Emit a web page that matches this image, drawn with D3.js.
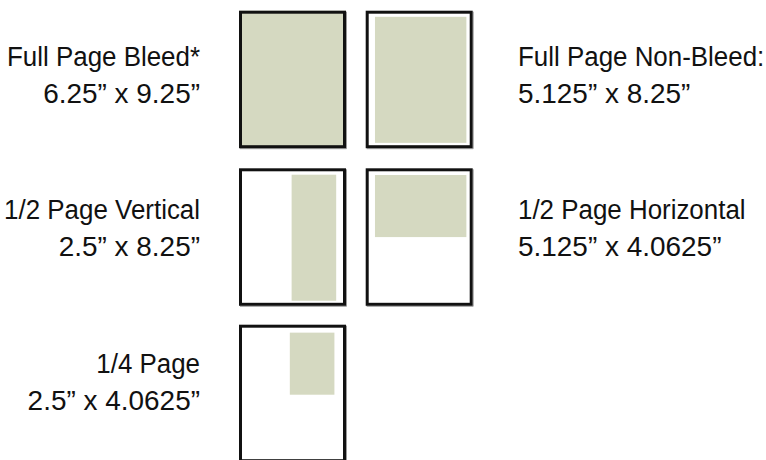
<!DOCTYPE html>
<html>
<head>
<meta charset="utf-8">
<script src="https://cdn.jsdelivr.net/npm/d3@7"></script>
<style>
  body { margin: 0; background: #fff; }
  text { font-family: "Liberation Sans", Arial, sans-serif; fill: #111; }
</style>
</head>
<body>
<div id="chart"></div>
<script>
// Ad sizes (inches) for a 6 x 9 trim page
const adNames = ["Full Page Bleed*", "Full Page Non-Bleed:", "1/2 Page Vertical", "1/2 Page Horizontal", "1/4 Page"];
const adSizes = ["6.25\u201D x 9.25\u201D", "5.125\u201D x 8.25\u201D", "2.5\u201D x 8.25\u201D", "5.125\u201D x 4.0625\u201D", "2.5\u201D x 4.0625\u201D"];
const adW = [6.25, 5.125, 2.5, 5.125, 2.5];
const adH = [9.25, 8.25, 8.25, 4.0625, 4.0625];
const adX = [-0.125, 0.52, 2.95, 0.52, 2.85];   // offset from page left
const adY = [-0.125, 0.4, 0.42, 0.44, 0.52];    // offset from page top
const trimW = 6, trimH = 9;

const width = 766, height = 460;
const pageW = 107, pageH = 137.5;
const colX = [239, 365.7];
const rowY = [10.7, 168.3, 324.7];
const labelY = [66, 219, 373];   // first baseline per row
const nameScale = 0.96, sizeScale = 1.035;

const svg = d3.select("#chart").append("svg")
    .attr("width", width)
    .attr("height", height);

const x = d3.scaleLinear().domain([0, trimW]).range([0, pageW]);
const y = d3.scaleLinear().domain([0, trimH]).range([0, pageH]);

const ads = adNames.map((name, i) => ({
    name, size: adSizes[i], w: adW[i], h: adH[i], ox: adX[i], oy: adY[i],
    col: i === 4 ? 0 : i % 2, row: Math.floor(i / 2)
}));

const page = svg.selectAll("g.page")
  .data(ads)
  .enter().append("g")
    .attr("class", "page")
    .attr("transform", d => `translate(${colX[d.col]},${rowY[d.row]})`);

// clip so the bleed ad stops at the trim
page.append("clipPath")
    .attr("id", (d, i) => "clip" + i)
  .append("rect")
    .attr("width", pageW)
    .attr("height", pageH);

page.append("rect")
    .attr("width", pageW)
    .attr("height", pageH)
    .attr("fill", "#fff");

page.append("rect")
    .attr("clip-path", (d, i) => `url(#clip${i})`)
    .attr("x", d => x(d.ox))
    .attr("y", d => y(d.oy))
    .attr("width", d => x(d.w))
    .attr("height", d => y(d.h))
    .attr("fill", "#d5d9c1");

// soft grey shadow on right / bottom edges
page.append("path")
    .attr("d", `M${pageW + 0.5},1V${pageH + 0.5}H1`)
    .attr("fill", "none")
    .attr("stroke", "#9a9a9a")
    .attr("stroke-width", 1);

page.append("rect")
    .attr("x", 1.5)
    .attr("y", 1.5)
    .attr("width", pageW - 3)
    .attr("height", pageH - 3)
    .attr("fill", "none")
    .attr("stroke", "#111")
    .attr("stroke-width", 3);

// labels: name on the first line, size below
const label = svg.selectAll("g.label")
  .data(ads)
  .enter().append("g")
    .attr("class", "label")
    .attr("transform", d => `translate(${d.col === 0 ? 200 : 518},${labelY[d.row]})`);

label.append("text")
    .attr("text-anchor", d => d.col === 0 ? "end" : "start")
    .attr("font-size", 27)
    .attr("transform", `scale(${nameScale},1)`)
    .text(d => d.name);

label.append("text")
    .attr("text-anchor", d => d.col === 0 ? "end" : "start")
    .attr("font-size", 27)
    .attr("transform", `translate(0,36.5) scale(${sizeScale},1)`)
    .text(d => d.size);
</script>
</body>
</html>
